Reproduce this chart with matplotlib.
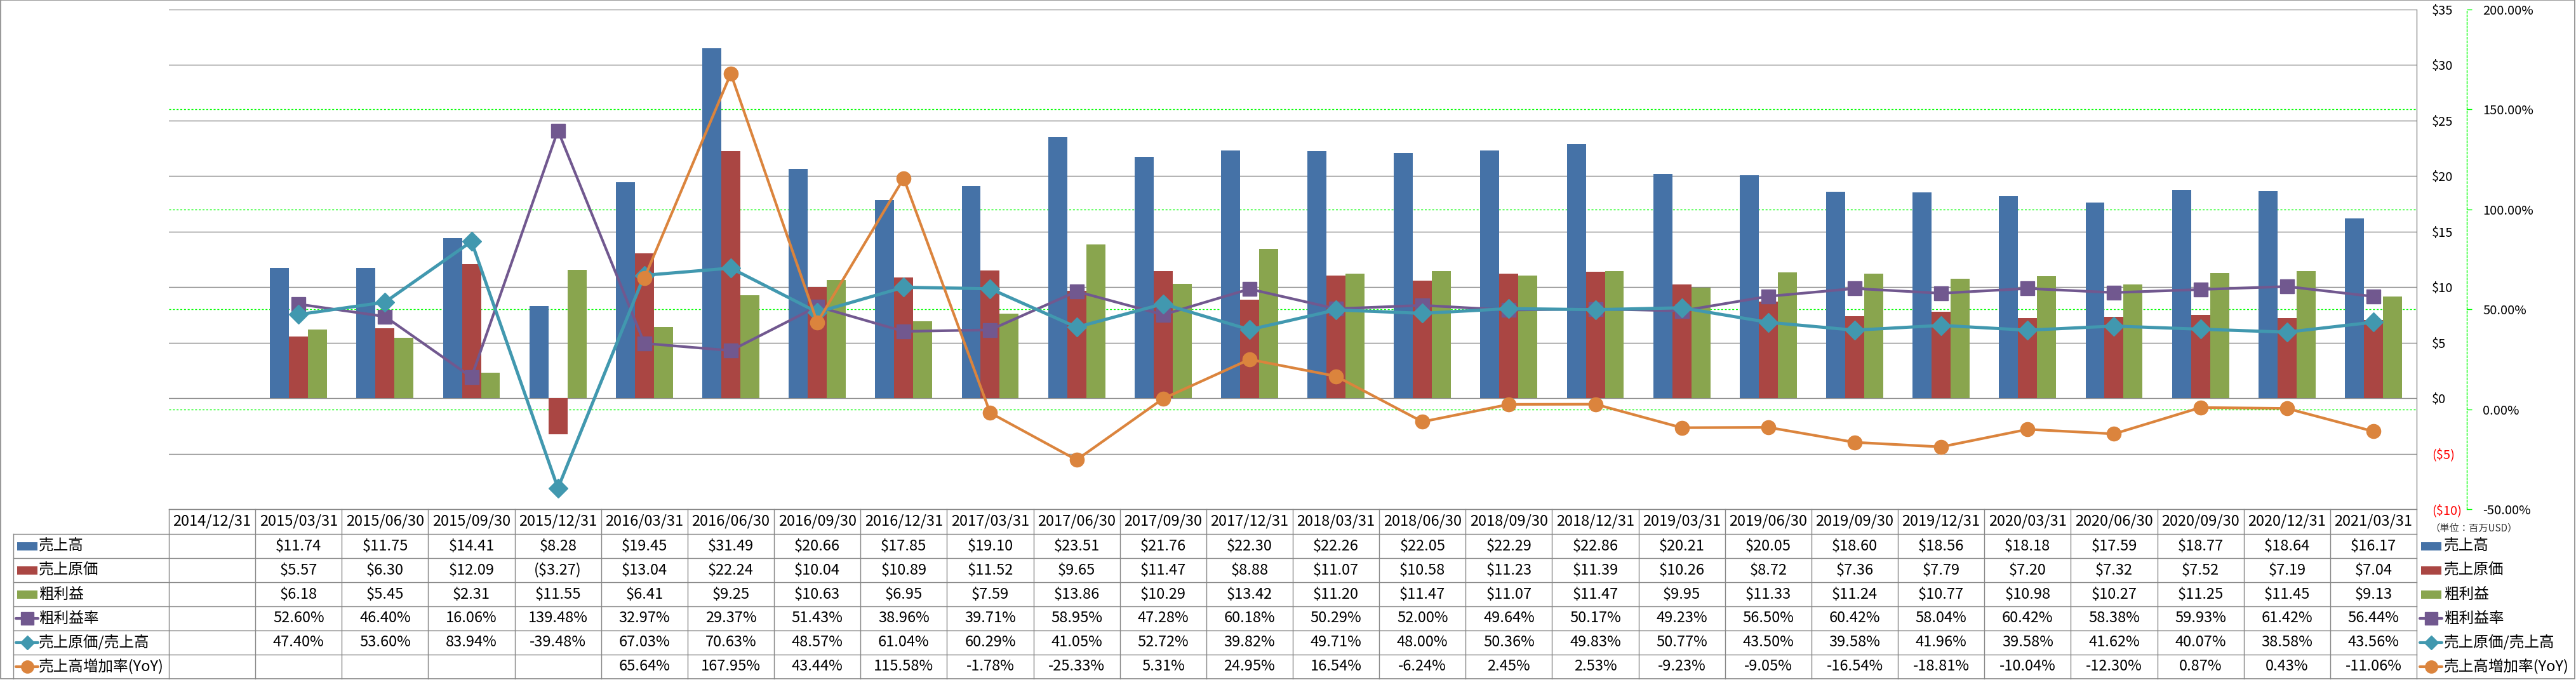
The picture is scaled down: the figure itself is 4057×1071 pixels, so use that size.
import numpy as np
import matplotlib
matplotlib.use("Agg")
import matplotlib.pyplot as plt
from matplotlib.lines import Line2D
from matplotlib.patches import Rectangle
from matplotlib.transforms import blended_transform_factory

plt.rcParams["font.family"] = ["Noto Sans CJK JP", "DejaVu Sans"]

nan = np.nan

dates = [
    "2014/12/31",
    "2015/03/31", "2015/06/30", "2015/09/30", "2015/12/31",
    "2016/03/31", "2016/06/30", "2016/09/30", "2016/12/31",
    "2017/03/31", "2017/06/30", "2017/09/30", "2017/12/31",
    "2018/03/31", "2018/06/30", "2018/09/30", "2018/12/31",
    "2019/03/31", "2019/06/30", "2019/09/30", "2019/12/31",
    "2020/03/31", "2020/06/30", "2020/09/30", "2020/12/31",
    "2021/03/31",
]

# 百万USD
sales = [nan, 11.74, 11.75, 14.41, 8.28, 19.45, 31.49, 20.66, 17.85,
         19.10, 23.51, 21.76, 22.30, 22.26, 22.05, 22.29, 22.86,
         20.21, 20.05, 18.60, 18.56, 18.18, 17.59, 18.77, 18.64, 16.17]
cost = [nan, 5.57, 6.30, 12.09, -3.27, 13.04, 22.24, 10.04, 10.89,
        11.52, 9.65, 11.47, 8.88, 11.07, 10.58, 11.23, 11.39,
        10.26, 8.72, 7.36, 7.79, 7.20, 7.32, 7.52, 7.19, 7.04]
gross = [nan, 6.18, 5.45, 2.31, 11.55, 6.41, 9.25, 10.63, 6.95,
         7.59, 13.86, 10.29, 13.42, 11.20, 11.47, 11.07, 11.47,
         9.95, 11.33, 11.24, 10.77, 10.98, 10.27, 11.25, 11.45, 9.13]

# %
gross_margin = [nan, 52.60, 46.40, 16.06, 139.48, 32.97, 29.37, 51.43, 38.96,
                39.71, 58.95, 47.28, 60.18, 50.29, 52.00, 49.64, 50.17,
                49.23, 56.50, 60.42, 58.04, 60.42, 58.38, 59.93, 61.42, 56.44]
cost_ratio = [nan, 47.40, 53.60, 83.94, -39.48, 67.03, 70.63, 48.57, 61.04,
              60.29, 41.05, 52.72, 39.82, 49.71, 48.00, 50.36, 49.83,
              50.77, 43.50, 39.58, 41.96, 39.58, 41.62, 40.07, 38.58, 43.56]
sales_yoy = [nan, nan, nan, nan, nan, 65.64, 167.95, 43.44, 115.58,
             -1.78, -25.33, 5.31, 24.95, 16.54, -6.24, 2.45, 2.53,
             -9.23, -9.05, -16.54, -18.81, -10.04, -12.30, 0.87, 0.43, -11.06]

BLUE = "#4572A7"
RED = "#AA4643"
GREEN = "#89A54E"
PURPLE = "#71588F"
TEAL = "#4198AF"
ORANGE = "#DB843D"
GRID = "#868686"
LIME = "#00FF00"

W, H = 4057, 1071
PX = 0.72  # points per pixel at dpi 100


def fx(px):
    return px / W


def fy(py):
    return 1 - py / H


fig = plt.figure(figsize=(W / 100, H / 100), dpi=100)

ax_left, ax_right, ax_top, ax_bottom = 266, 3806, 15, 802
ax = fig.add_axes([fx(ax_left), fy(ax_bottom),
                   (ax_right - ax_left) / W, (ax_bottom - ax_top) / H])
ax2 = ax.twinx()

n = len(dates)
x = np.arange(n)
bw = 0.22

ax.bar(x - bw, sales, bw, color=BLUE, zorder=1)
ax.bar(x, cost, bw, color=RED, zorder=1)
ax.bar(x + bw, gross, bw, color=GREEN, zorder=1)

ax.set_xlim(-0.5, n - 0.5)
ax.set_ylim(-10, 35)
ax.set_xticks([])


def money_label(v):
    return f"${v:.0f}" if v >= 0 else f"(${-v:.0f})"


money_ticks = np.arange(-10, 36, 5)
ax.set_yticks(money_ticks, [money_label(v) for v in money_ticks])
ax.yaxis.tick_right()
ax.tick_params(axis="y", length=0, pad=24 * PX, labelsize=14.5)
for v, lbl in zip(money_ticks, ax.get_yticklabels()):
    if v < 0:
        lbl.set_color("#FF0000")
ax.set_axisbelow(True)
ax.yaxis.grid(True, color=GRID, lw=1.0)
for s in ax.spines.values():
    s.set_visible(False)

# secondary axis (ratios)
pct = lambda a: np.array(a) / 100
ax2.plot(x, pct(gross_margin), color=PURPLE, lw=3.0, marker="s", ms=16,
         zorder=3, solid_joinstyle="round")
ax2.plot(x, pct(cost_ratio), color=TEAL, lw=3.6, marker="D", ms=15.5,
         zorder=4, solid_joinstyle="round")
ax2.plot(x, pct(sales_yoy), color=ORANGE, lw=3.0, marker="o", ms=16,
         zorder=5, solid_joinstyle="round")
ax2.set_ylim(-0.5, 2.0)
pct_ticks = np.arange(-0.5, 2.01, 0.5)
ax2.set_yticks(pct_ticks, [f"{v * 100:.2f}%" for v in pct_ticks])
for v, lbl in zip(pct_ticks, ax2.get_yticklabels()):
    if v < 0:
        lbl.set_color("#FF0000")
ax2.tick_params(axis="y", direction="out", length=8 * PX, width=1,
                color=LIME, pad=17 * PX, labelsize=14.5)
for name, s in ax2.spines.items():
    s.set_visible(name == "right")
ax2.spines["right"].set_position(("outward", 79 * PX))
ax2.spines["right"].set_color(LIME)
ax2.spines["right"].set_linestyle((0, (2.2, 2.0)))
ax2.spines["right"].set_linewidth(1.0)

# green gridlines for the secondary scale, kept behind the bars
lo, hi = ax2.get_ylim()
gtrans = blended_transform_factory(ax.transAxes, ax2.transData)
for v in ax2.get_yticks():
    if lo < v < hi:
        ax.plot([0, 1], [v, v], transform=gtrans, color=LIME, lw=1.0,
                ls=(0, (2.2, 2.0)), zorder=0.6)

# ---- data table under the plot ----
line_kw = dict(color=GRID, lw=1.0, transform=fig.transFigure)


def hline(y, x0, x1):
    fig.add_artist(Line2D([fx(x0), fx(x1)], [fy(y), fy(y)], **line_kw))


def vline(xp, y0, y1):
    fig.add_artist(Line2D([fx(xp), fx(xp)], [fy(y0), fy(y1)], **line_kw))


cw = (ax_right - ax_left) / n
head_top, head_bot, row_h = 802, 841, 38
label_left = 21
n_rows = 6
table_bot = head_bot + n_rows * row_h

hline(head_top, ax_left, ax_right)
for r in range(n_rows):
    hline(head_bot + r * row_h, label_left, ax_right)
vline(label_left, head_bot, table_bot)
for i in range(n):
    vline(ax_left + i * cw, head_top, table_bot)
vline(ax_right, ax_top, table_bot)

tsize = 17
for i, d in enumerate(dates):
    fig.text(fx(ax_left + (i + 0.5) * cw), fy((head_top + head_bot) / 2), d,
             ha="center", va="center", fontsize=tsize)


def fmt_money(v):
    if np.isnan(v):
        return ""
    return f"${v:.2f}" if v >= 0 else f"(${-v:.2f})"


def fmt_pct(v):
    if np.isnan(v):
        return ""
    return f"{v:.2f}%"


rows = [
    ("売上高", sales, fmt_money, "bar", BLUE),
    ("売上原価", cost, fmt_money, "bar", RED),
    ("粗利益", gross, fmt_money, "bar", GREEN),
    ("粗利益率", gross_margin, fmt_pct, "s", PURPLE),
    ("売上原価/売上高", cost_ratio, fmt_pct, "D", TEAL),
    ("売上高増加率(YoY)", sales_yoy, fmt_pct, "o", ORANGE),
]

key_ms = {"s": 14, "D": 11.5, "o": 14}


def draw_key(x0, yc, kind, color):
    if kind == "bar":
        fig.add_artist(Rectangle((fx(x0), fy(yc + 6.5)), 32 / W, 13 / H,
                                 transform=fig.transFigure, color=color,
                                 lw=0))
    else:
        fig.add_artist(Line2D([fx(x0 - 2), fx(x0 + 33)], [fy(yc), fy(yc)],
                              transform=fig.transFigure, color=color, lw=3,
                              marker=kind, ms=key_ms[kind], markevery=[],
                              solid_capstyle="round"))
        fig.add_artist(Line2D([fx(x0 + 16)], [fy(yc)],
                              transform=fig.transFigure, color=color,
                              marker=kind, ms=key_ms[kind], ls="none"))


for r, (name, vals, fmt, kind, color) in enumerate(rows):
    yc = head_bot + (r + 0.5) * row_h
    for i, v in enumerate(vals):
        fig.text(fx(ax_left + (i + 0.5) * cw), fy(yc), fmt(v),
                 ha="center", va="center", fontsize=tsize)
    # left row header
    draw_key(27, yc, kind, color)
    fig.text(fx(61), fy(yc), name, ha="left", va="center", fontsize=tsize)
    # right legend
    draw_key(3813, yc, kind, color)
    fig.text(fx(3849), fy(yc), name, ha="left", va="center", fontsize=tsize)

fig.text(fx(3827), fy(832), "（単位：百万USD）", ha="left", va="center",
         fontsize=11, color="#333333")

# outer frame
fig.add_artist(Rectangle((fx(1), fy(1069)), (4055 - 1) / W, 1069 / H,
                         transform=fig.transFigure, fill=False,
                         edgecolor=GRID, lw=1.2))

fig.savefig("out.png", dpi=100)
